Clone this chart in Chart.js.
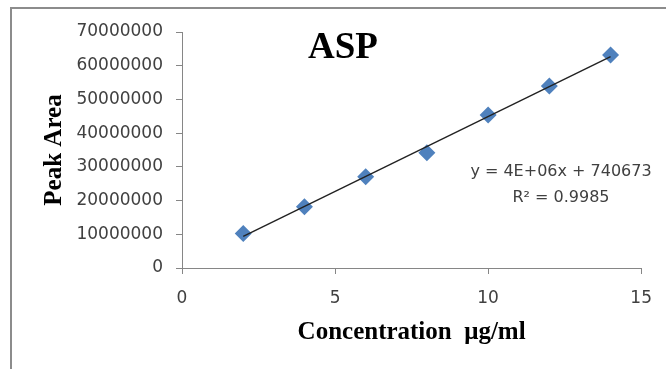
<!DOCTYPE html>
<html><head><meta charset="utf-8">
<script src="https://cdn.jsdelivr.net/npm/chart.js@4/dist/chart.umd.min.js"></script>
<style>
html,body{margin:0;padding:0;background:#fff;}
#frame{position:absolute;left:10px;top:7px;width:656px;height:362px;border-top:2px solid #8c8c8c;border-left:2px solid #8c8c8c;box-sizing:border-box;}
#wrap{position:absolute;left:0;top:0;width:666px;height:369px;}
</style></head><body>
<div id="frame"></div>
<div id="wrap"><canvas id="c" width="666" height="369"></canvas></div>
<script>
// ---- data ----
const concentrations = [2, 4, 6, 8, 10, 12, 14];
const peakAreas = [10200000, 18200000, 27100000, 34200000, 45400000, 54000000, 63200000];
const xTickValues = [0, 5, 10, 15];
const yTickValues = [0, 10000000, 20000000, 30000000, 40000000, 50000000, 60000000, 70000000];
const chartTitle = 'ASP';
const xAxisTitle = 'Concentration  \u03bcg/ml';
const yAxisTitle = 'Peak Area';
const equationLines = ['y = 4E+06x + 740673', 'R\u00b2 = 0.9985'];

// least-squares trendline from the data
const n = concentrations.length;
const mx = concentrations.reduce((a, b) => a + b, 0) / n;
const my = peakAreas.reduce((a, b) => a + b, 0) / n;
let sxy = 0, sxx = 0;
for (let i = 0; i < n; i++) { sxy += (concentrations[i] - mx) * (peakAreas[i] - my); sxx += (concentrations[i] - mx) ** 2; }
const slope = sxy / sxx, intercept = my - slope * mx;
const xMin = Math.min(...concentrations), xMax = Math.max(...concentrations);
const trendPoints = [{x: xMin, y: intercept + slope * xMin}, {x: xMax, y: intercept + slope * xMax}];
const scatterPoints = concentrations.map((x, i) => ({x, y: peakAreas[i]}));

const AXIS = '#868686';
const TICK = '#404040';

const annotate = {
  id: 'annotate',
  afterDraw(chart) {
    const ctx = chart.ctx;
    ctx.save();
    ctx.fillStyle = '#000';
    ctx.textAlign = 'center';
    ctx.textBaseline = 'alphabetic';
    ctx.font = 'bold 37px "Liberation Serif", "Times New Roman", serif';
    ctx.fillText(chartTitle, 343, 58);
    ctx.fillStyle = '#404040';
    ctx.font = '16px "DejaVu Sans", sans-serif';
    ctx.fillText(equationLines[0], 561, 176);
    ctx.fillText(equationLines[1], 561, 202);
    ctx.restore();
  }
};

new Chart(document.getElementById('c'), {
  type: 'scatter',
  data: {
    datasets: [
      { type: 'line', data: trendPoints, borderColor: '#222', borderWidth: 1.4, pointRadius: 0, fill: false, order: 0 },
      { type: 'scatter', data: scatterPoints, pointStyle: 'rectRot', pointRadius: 8.5, pointHoverRadius: 8.5,
        backgroundColor: '#4F81BD', borderColor: '#4F81BD', borderWidth: 0, order: 1 }
    ]
  },
  options: {
    responsive: false,
    animation: false,
    devicePixelRatio: 1,
    layout: { padding: { left: 0, top: 32, right: 24, bottom: 0 } },
    plugins: { legend: { display: false }, tooltip: { enabled: false } },
    scales: {
      x: {
        type: 'linear', min: 0, max: 15,
        afterBuildTicks: s => { s.ticks = xTickValues.map(v => ({value: v})); },
        afterFit: s => { s.height = 101; },
        ticks: { font: { family: 'DejaVu Sans', size: 17 }, color: TICK, padding: 14, maxRotation: 0 },
        grid: { drawOnChartArea: false, drawTicks: true, tickLength: 6, color: AXIS },
        border: { color: AXIS, width: 1 },
        title: { display: true, text: xAxisTitle, color: '#000',
          font: { family: 'Liberation Serif', size: 25, weight: 'bold' }, padding: { top: 0, bottom: 21 } }
      },
      y: {
        type: 'linear', min: 0, max: 70000000,
        afterBuildTicks: s => { s.ticks = yTickValues.map(v => ({value: v})); },
        afterFit: s => { s.width = 182; },
        ticks: { font: { family: 'DejaVu Sans', size: 17 }, color: TICK, padding: 13, callback: v => String(v) },
        grid: { drawOnChartArea: false, drawTicks: true, tickLength: 6, color: AXIS },
        border: { color: AXIS, width: 1 },
        title: { display: true, text: yAxisTitle, color: '#000',
          font: { family: 'Liberation Serif', size: 25, weight: 'bold' }, padding: { top: 40, bottom: 0 } }
      }
    }
  },
  plugins: [annotate]
});
</script>
</body></html>
